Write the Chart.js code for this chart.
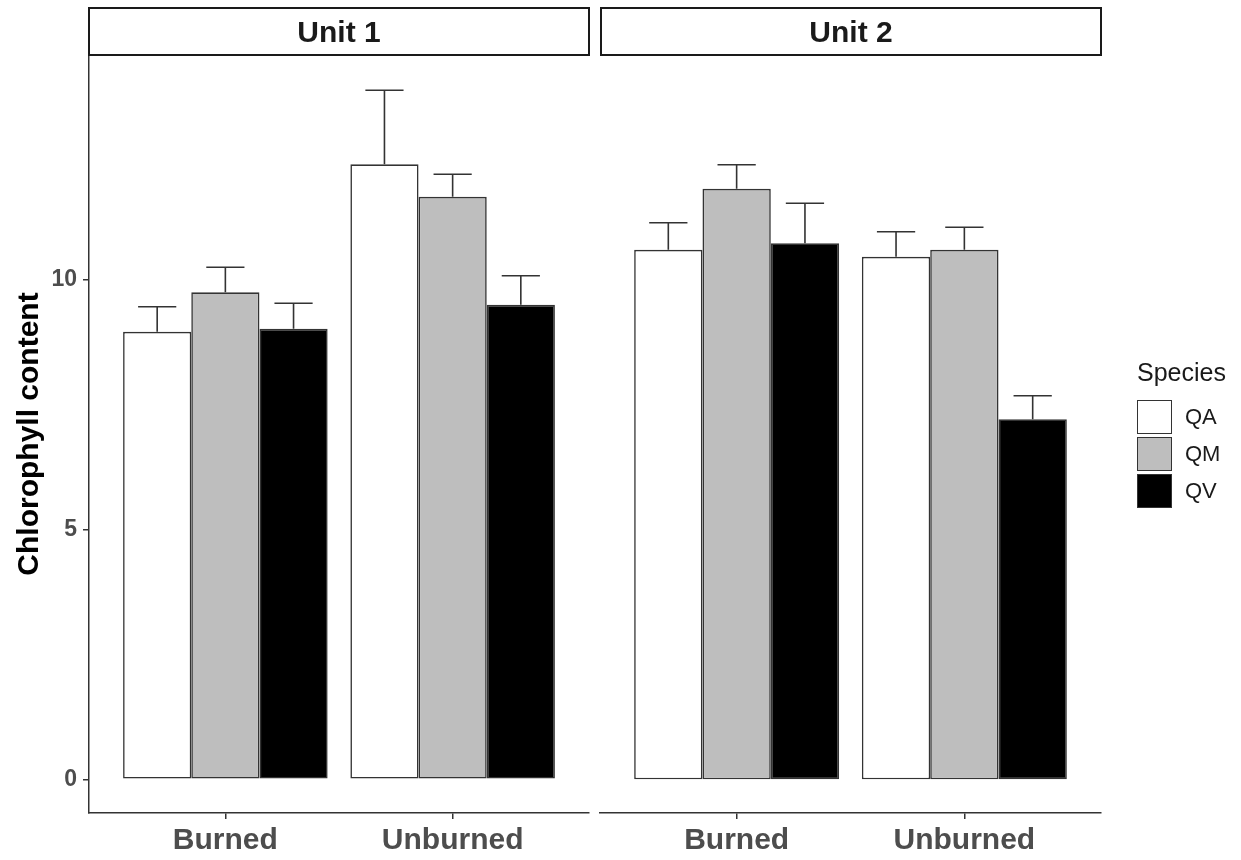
<!DOCTYPE html>
<html>
<head>
<meta charset="utf-8">
<script src="https://cdn.jsdelivr.net/npm/chart.js@4/dist/chart.umd.min.js"></script>
<style>
  body { margin: 0; background: #fff; font-family: "Liberation Sans", Arial, sans-serif; }
  #wrap { position: relative; width: 1241px; height: 860px; overflow: hidden; }
  canvas { position: absolute; top: 0; }
  .strip { position: absolute; top: 7px; height: 49px; box-sizing: border-box; border: 2px solid #1a1a1a;
           font-weight: bold; font-size: 30px; line-height: 45px; text-align: center; color: #1a1a1a; }
  #legend { position: absolute; left: 1137px; top: 358px; color: #1a1a1a; }
  #legend .title { font-size: 25px; height: 40px; }
  #legend .row { height: 37px; display: flex; align-items: center; }
  #legend .key { width: 35px; height: 34px; box-sizing: border-box; border: 1.5px solid #333; }
  #legend .lab { font-size: 22px; margin-left: 13px; }
</style>
</head>
<body>
<div id="wrap">
  <canvas id="panel1" width="595" height="860" style="left:0"></canvas>
  <canvas id="panel2" width="646" height="860" style="left:595px"></canvas>
  <div class="strip" id="strip1" style="left:88px;width:502px"></div>
  <div class="strip" id="strip2" style="left:600px;width:502px"></div>
  <div id="legend"></div>
</div>
<script>
// facet / category labels
const units = ['Unit 1', 'Unit 2'];
const categories = ['Burned', 'Unburned'];
const species = ['QA', 'QM', 'QV'];
const speciesFill = ['#ffffff', '#bebebe', '#000000'];
const yTicks = [0, 5, 10];

// mean chlorophyll content (Burned, Unburned)
const unit1QA = [8.95, 12.30];
const unit1QM = [9.74, 11.65];
const unit1QV = [9.01, 9.49];
const unit2QA = [10.59, 10.45];
const unit2QM = [11.81, 10.59];
const unit2QV = [10.72, 7.20];

// upper error bar lengths
const unit1QAse = [0.50, 1.48];
const unit1QMse = [0.50, 0.45];
const unit1QVse = [0.51, 0.58];
const unit2QAse = [0.54, 0.50];
const unit2QMse = [0.48, 0.45];
const unit2QVse = [0.80, 0.47];

const FONT = '"Liberation Sans", Arial, sans-serif';
const AXIS = '#333333';
const TICK_TXT = '#4d4d4d';

document.getElementById('strip1').textContent = units[0];
document.getElementById('strip2').textContent = units[1];

// legend (ggplot style, keys stacked)
const legend = document.getElementById('legend');
legend.innerHTML = '<div class="title">Species</div>' + species.map((s, i) =>
  `<div class="row"><span class="key" style="background:${speciesFill[i]}"></span><span class="lab">${s}</span></div>`
).join('');

const errorBarPlugin = {
  id: 'errorBars',
  afterDatasetsDraw(chart) {
    const ctx = chart.ctx;
    const yScale = chart.scales.y;
    ctx.save();
    ctx.strokeStyle = AXIS;
    ctx.lineWidth = 1.6;
    chart.data.datasets.forEach((ds, i) => {
      const meta = chart.getDatasetMeta(i);
      meta.data.forEach((bar, j) => {
        const top = yScale.getPixelForValue(ds.data[j].y + ds.se[j]);
        const half = bar.width * 0.28;
        ctx.beginPath();
        ctx.moveTo(bar.x, bar.y);
        ctx.lineTo(bar.x, top);
        ctx.moveTo(bar.x - half, top);
        ctx.lineTo(bar.x + half, top);
        ctx.stroke();
      });
    });
    ctx.restore();
  }
};

function makeDatasets(values, errors) {
  return species.map((s, i) => ({
    label: s,
    data: values[i].map((v, j) => ({ x: j + 1, y: v })),
    se: errors[i],
    backgroundColor: speciesFill[i],
    borderColor: AXIS,
    borderWidth: 1.6,
    borderSkipped: false,
    categoryPercentage: 0.9,
    barPercentage: 1.0
  }));
}

function createPanel(canvasId, values, errors, showY, padding) {
  const ctx = document.getElementById(canvasId).getContext('2d');
  return new Chart(ctx, {
    type: 'bar',
    data: { datasets: makeDatasets(values, errors) },
    options: {
      responsive: false,
      animation: false,
      devicePixelRatio: 1,
      layout: { padding },
      plugins: { legend: { display: false }, tooltip: { enabled: false } },
      scales: {
        x: {
          type: 'linear',
          min: 0.4, max: 2.6,
          offset: false,
          afterBuildTicks: (scale) => { scale.ticks = [{ value: 1 }, { value: 2 }]; },
          afterFit: (scale) => { scale.height = 47; },
          ticks: {
            callback: (v) => categories[v - 1],
            color: TICK_TXT,
            font: { family: FONT, size: 30, weight: 'bold' },
            padding: 4,
            maxRotation: 0,
            autoSkip: false
          },
          grid: { offset: false, drawOnChartArea: false, drawTicks: true, tickLength: 6, color: AXIS, lineWidth: 1.5 },
          border: { display: true, color: AXIS, width: 1.5 }
        },
        y: {
          display: showY,
          min: -0.674, max: 14.486,
          afterBuildTicks: (scale) => { scale.ticks = yTicks.map(v => ({ value: v })); },
          afterFit: (scale) => { if (showY) scale.width = 89; },
          ticks: {
            color: TICK_TXT,
            font: { family: FONT, size: 23, weight: 'bold' },
            padding: 6
          },
          title: {
            display: true,
            text: 'Chlorophyll content',
            color: '#000',
            font: { family: FONT, size: 30, weight: 'bold' },
            padding: { top: 12, bottom: 0 }
          },
          grid: { drawOnChartArea: false, drawTicks: true, tickLength: 6, color: AXIS, lineWidth: 1.5 },
          border: { display: true, color: AXIS, width: 1.5 }
        }
      }
    },
    plugins: [errorBarPlugin]
  });
}

createPanel('panel1', [unit1QA, unit1QM, unit1QV], [unit1QAse, unit1QMse, unit1QVse], true,
  { left: 0, top: 55, right: 6, bottom: 0 });
createPanel('panel2', [unit2QA, unit2QM, unit2QV], [unit2QAse, unit2QMse, unit2QVse], false,
  { left: 5, top: 55, right: 140, bottom: 0 });
</script>
</body>
</html>
